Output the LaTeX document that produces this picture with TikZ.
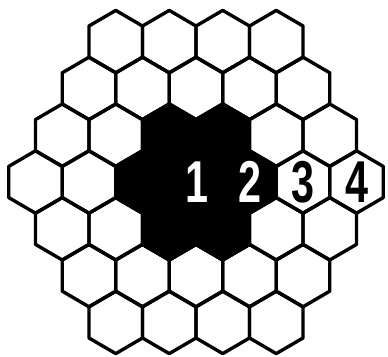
\documentclass[tikz,border=0pt]{standalone}
\usepackage{fontspec}
\newfontfamily\digitfont[FakeStretch=0.7]{Liberation Sans}

\begin{document}
\begin{tikzpicture}[x=0.025cm, y=0.025cm,
  cell/.style={line width=2.4pt, line join=round},
  digit/.style={font={\digitfont\bfseries\fontsize{42}{44}\selectfont}, inner sep=0pt}]
  \useasboundingbox (-196,-174) rectangle (192,182);
  % board of 37 cells, axial coordinates (q,r)
  \foreach \r in {-3,...,3}
    \foreach \q in {-3,...,3}{
      \pgfmathtruncatemacro\ok{abs(\q+\r)<=3}
      \ifnum\ok=1
        \draw[cell] (53.5*\q+26.75*\r, -46.8*\r) +(0,31.2) -- +(26.75,15.6)
          -- +(26.75,-15.6) -- +(0,-31.2) -- +(-26.75,-15.6) -- +(-26.75,15.6) -- cycle;
      \fi
    }
  % black centre: middle cell and its six neighbours
  \foreach \q/\r in {0/0, 1/0, -1/0, 0/1, 0/-1, 1/-1, -1/1}
    \filldraw[cell] (53.5*\q+26.75*\r, -46.8*\r) +(0,31.2) -- +(26.75,15.6)
      -- +(26.75,-15.6) -- +(0,-31.2) -- +(-26.75,-15.6) -- +(-26.75,15.6) -- cycle;
  % distances along the middle row
  \node[digit, white] (one) at (1,0) {1};
  \node[digit, white] (two) at (53.5,0) {2};
  \node[digit] (three) at (107,0) {3};
  \node[digit] (four) at (160.5,0) {4};
\end{tikzpicture}
\end{document}
